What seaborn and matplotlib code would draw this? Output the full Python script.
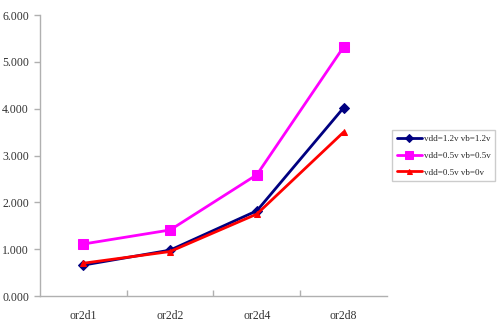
import matplotlib
matplotlib.use("Agg")
import matplotlib.pyplot as plt
import seaborn as sns
import pandas as pd
from matplotlib.ticker import FormatStrFormatter

categories = ["or2d1", "or2d2", "or2d4", "or2d8"]
s1_name = "vdd=1.2v vb=1.2v"
s1 = [0.66, 0.98, 1.82, 4.02]
s2_name = "vdd=0.5v vb=0.5v"
s2 = [1.11, 1.41, 2.59, 5.32]
s3_name = "vdd=0.5v vb=0v"
s3 = [0.70, 0.95, 1.75, 3.50]
yticks = [0, 1, 2, 3, 4, 5, 6]

sns.set_theme(style="white")
plt.rcParams['font.family'] = ['Liberation Serif', 'DejaVu Serif']

fig = plt.figure(figsize=(5, 3.29), dpi=100)
ax = fig.add_axes([0.08, 0.1003, 0.694, 0.854])

x = list(range(len(categories)))
specs = [
    (s1_name, s1, "#000080", "D", 5.5, 2.0),
    (s2_name, s2, "#ff00ff", "s", 6.5, 2.0),
    (s3_name, s3, "#ff0000", "^", 4.5, 2.0),
]
for name, vals, col, mk, ms, lw in specs:
    df = pd.DataFrame({"x": x, "y": vals})
    sns.lineplot(data=df, x="x", y="y", ax=ax, color=col, marker=mk,
                 markersize=ms, markeredgecolor=col, linewidth=lw, label=name)

ax.set_xlim(-0.5, 3.5)
ax.set_ylim(0, 6)
ax.set_xticks(x)
ax.set_xticklabels(categories)
ax.set_yticks(yticks)
ax.yaxis.set_major_formatter(FormatStrFormatter("%.3f"))
ax.set_xlabel("")
ax.set_ylabel("")
for s in ["top", "right"]:
    ax.spines[s].set_visible(False)
for s in ["left", "bottom"]:
    ax.spines[s].set_color("#b0b0b0")
    ax.spines[s].set_linewidth(1.0)
ax.tick_params(axis="y", which="major", direction="out", length=4, width=1,
               color="#b0b0b0", labelsize=8.5, labelcolor="#333333", pad=4, left=True)
ax.tick_params(axis="x", which="major", length=0, labelsize=8.5, labelcolor="#333333", pad=10)
ax.set_xticks([0.5, 1.5, 2.5], minor=True)
ax.tick_params(axis="x", which="minor", direction="in", length=4, width=1,
               color="#b0b0b0", bottom=True)

leg = ax.legend(loc="upper left", bbox_to_anchor=((392 - 40) / 347, (296 - 130) / 281),
                frameon=True, fontsize=6.5, handlelength=2.8, borderpad=0.5,
                labelspacing=0.95, handletextpad=0.2, fancybox=False, borderaxespad=0,
                markerscale=0.8)
leg.get_frame().set_edgecolor("#c0c0c0")
leg.get_frame().set_linewidth(1.0)

fig.savefig("out.png", dpi=100)
